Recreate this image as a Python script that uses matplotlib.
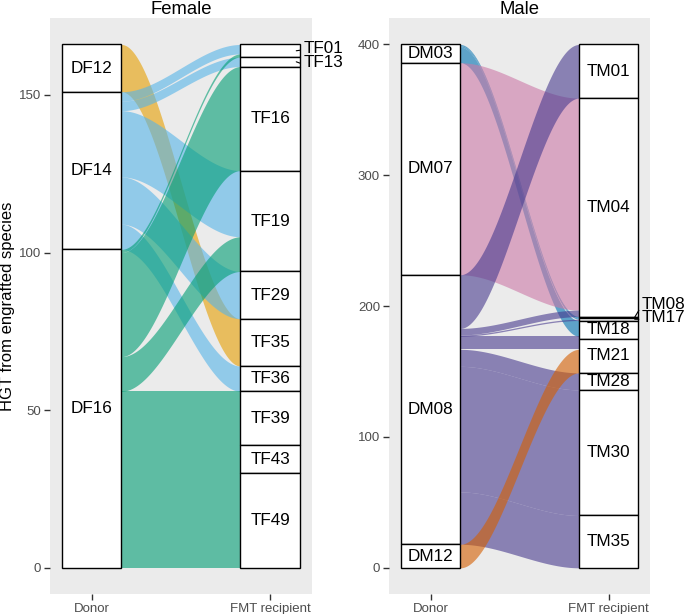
"""Alluvial plot of HGT from engrafted species, donor -> FMT recipient."""

import matplotlib
matplotlib.use("Agg")
import matplotlib.pyplot as plt
from matplotlib.patches import Rectangle
import numpy as np

plt.rcParams["font.family"] = ["Liberation Sans", "DejaVu Sans"]

# Female data
female_donors = ["DF12", "DF14", "DF16"]
female_recipients = ["TF01", "TF13", "TF16", "TF19", "TF29",
                     "TF35", "TF36", "TF39", "TF43", "TF49"]
female_src = ["DF12", "DF14", "DF14", "DF14", "DF14", "DF14",
              "DF16", "DF16", "DF16", "DF16", "DF16", "DF16"]
female_dst = ["TF35", "TF01", "TF13", "TF19", "TF29", "TF36",
              "TF01", "TF16", "TF19", "TF39", "TF43", "TF49"]
female_hgt = [15, 3, 3, 21, 15, 8,
              1, 33, 11, 17, 9, 30]
female_colors = {"DF12": "#E69F00", "DF14": "#56B4E9", "DF16": "#009E73"}

# Male data
male_donors = ["DM03", "DM07", "DM08", "DM12"]
male_recipients = ["TM01", "TM04", "TM08", "TM17", "TM18",
                   "TM21", "TM28", "TM30", "TM35"]
male_src = ["DM03", "DM03", "DM03", "DM07",
            "DM08", "DM08", "DM08", "DM08", "DM08", "DM08", "DM08", "DM08",
            "DM12"]
male_dst = ["TM08", "TM17", "TM18", "TM04",
            "TM01", "TM04", "TM17", "TM18", "TM21", "TM28", "TM30", "TM35",
            "TM21"]
male_hgt = [1, 1, 12, 162,
            41, 5, 1, 2, 8, 13, 96, 40,
            18]
male_colors = {"DM03": "#0072B2", "DM07": "#CC79A7",
               "DM08": "#483A8F", "DM12": "#D55E00"}

BG = "#EBEBEB"
HALF = 1 / 6  # half stratum width


def stack_top(names, sizes, total):
    tops = {}
    y = total
    for n in names:
        tops[n] = y
        y -= sizes[n]
    return tops


def draw_panel(ax, title, donors, recips, src, dst, hgt, colors,
               yticks, outside):
    total = sum(hgt)
    d_size = {d: sum(h for s, h in zip(src, hgt) if s == d) for d in donors}
    r_size = {r: sum(h for t, h in zip(dst, hgt) if t == r) for r in recips}
    d_top = stack_top(donors, d_size, total)
    r_top = stack_top(recips, r_size, total)
    di = {d: i for i, d in enumerate(donors)}
    ri = {r: i for i, r in enumerate(recips)}
    idx = range(len(hgt))

    # flow positions at each end
    left, right = {}, {}
    cur = dict(d_top)
    for k in sorted(idx, key=lambda k: (di[src[k]], ri[dst[k]])):
        left[k] = (cur[src[k]] - hgt[k], cur[src[k]])
        cur[src[k]] -= hgt[k]
    cur = dict(r_top)
    for k in sorted(idx, key=lambda k: (ri[dst[k]], di[src[k]])):
        right[k] = (cur[dst[k]] - hgt[k], cur[dst[k]])
        cur[dst[k]] -= hgt[k]

    x0, x1 = 1 + HALF, 2 - HALF
    t = np.linspace(0, 1, 120)
    s = t * t * (3 - 2 * t)
    x = x0 + (x1 - x0) * t
    for k in idx:
        lo = left[k][0] + (right[k][0] - left[k][0]) * s
        hi = left[k][1] + (right[k][1] - left[k][1]) * s
        ax.fill_between(x, lo, hi, color=colors[src[k]], alpha=0.6,
                        lw=0, zorder=1)

    # strata
    for xc, names, tops, sizes in [(1, donors, d_top, d_size),
                                   (2, recips, r_top, r_size)]:
        for n in names:
            bottom = tops[n] - sizes[n]
            ax.add_patch(Rectangle((xc - HALF, bottom), 2 * HALF, sizes[n],
                                   facecolor="white", edgecolor="black",
                                   lw=1.0, zorder=3))
            mid = bottom + sizes[n] / 2
            if n in outside:
                dy = outside[n]
                ax.annotate(n, xy=(2 + HALF - 0.02, mid),
                            xytext=(5, dy), textcoords="offset points",
                            ha="left", va="center", fontsize=12.3,
                            annotation_clip=False, zorder=4,
                            arrowprops=dict(arrowstyle="-", lw=0.8,
                                            color="black", shrinkA=0,
                                            shrinkB=0, relpos=(0, 0.4)))
            else:
                ax.text(xc, mid, n, ha="center", va="center",
                        fontsize=12.3, zorder=4)

    ax.set_facecolor(BG)
    ax.set_xlim(0.767, 2.233)
    ax.set_ylim(-0.05 * total, 1.05 * total)
    ax.set_xticks([1, 2])
    ax.set_xticklabels(["Donor", "FMT recipient"])
    ax.set_yticks(yticks)
    for sp in ax.spines.values():
        sp.set_visible(False)
    ax.tick_params(axis="both", length=4, width=1, color="#333333",
                   labelsize=9.5, labelcolor="#4D4D4D", pad=2.5)
    ax.set_title(title, fontsize=13.3, pad=3)


fig = plt.figure(figsize=(6.85, 6.14), dpi=100)
ax_f = fig.add_axes([0.073, 0.0326, 0.382, 0.9376])
ax_m = fig.add_axes([0.568, 0.0326, 0.381, 0.9376])

draw_panel(ax_f, "Female", female_donors, female_recipients,
           female_src, female_dst, female_hgt, female_colors,
           [0, 50, 100, 150], {"TF01": 1.8, "TF13": -0.7})
draw_panel(ax_m, "Male", male_donors, male_recipients,
           male_src, male_dst, male_hgt, male_colors,
           [0, 100, 200, 300, 400], {"TM08": 9.4, "TM17": 1.0})

fig.text(8 / 685, 0.5016, "HGT from engrafted species", rotation=90,
         ha="center", va="center", fontsize=12)

fig.savefig("out.png", dpi=100)
